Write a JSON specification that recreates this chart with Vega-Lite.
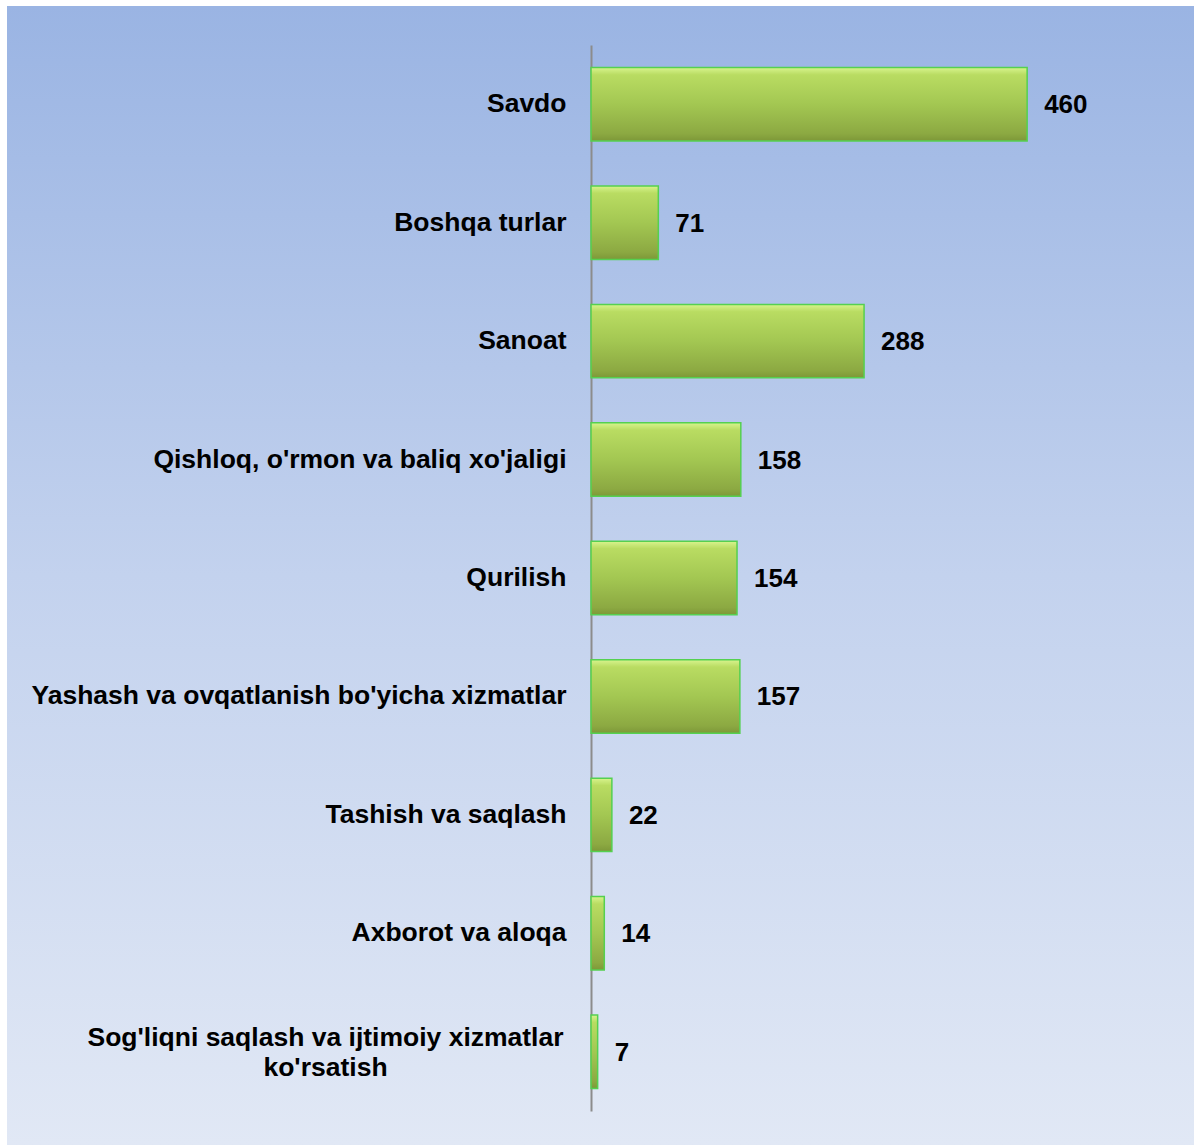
{
  "$schema": "https://vega.github.io/schema/vega-lite/v6.json",
  "width": 1187,
  "height": 1139,
  "autosize": {"type": "none"},
  "padding": {"left": 7, "top": 6, "right": 0, "bottom": 0},
  "background": "white",
  "config": {
    "view": {
      "stroke": null,
      "fill": {
        "gradient": "linear", "x1": 0, "y1": 0, "x2": 0, "y2": 1,
        "stops": [
          {"offset": 0, "color": "#9ab4e3"},
          {"offset": 0.5, "color": "#c3d2ee"},
          {"offset": 1, "color": "#e1e8f5"}
        ]
      }
    },
    "font": "Liberation Sans"
  },
  "data": {
    "values": [
      {"category": "Savdo", "value": 460},
      {"category": "Boshqa turlar", "value": 71},
      {"category": "Sanoat", "value": 288},
      {"category": "Qishloq, o'rmon va baliq xo'jaligi", "value": 158},
      {"category": "Qurilish", "value": 154},
      {"category": "Yashash va ovqatlanish bo'yicha xizmatlar", "value": 157},
      {"category": "Tashish va saqlash", "value": 22},
      {"category": "Axborot va aloqa", "value": 14},
      {"category": "Sog'liqni saqlash va ijtimoiy xizmatlar ko'rsatish", "value": 7}
    ]
  },
  "encoding": {
    "y": {
      "field": "category",
      "type": "nominal",
      "sort": null,
      "scale": {"range": [39, 1105], "paddingInner": 0.38, "paddingOuter": 0.19},
      "axis": {
        "title": null,
        "orient": "left",
        "offset": -584,
        "domainColor": "#8c8c8c",
        "domainWidth": 2,
        "ticks": false,
        "grid": false,
        "labelFont": "Liberation Sans",
        "labelFontSize": 26.5,
        "labelFontWeight": "bold",
        "labelColor": "#000000",
        "labelLimit": 0,
        "labelLineHeight": 30,
        "labelPadding": {"condition": {"test": "indexof(datum.label, 'Sog') === 0", "value": 266}, "value": 25},
        "labelAlign": {"condition": {"test": "indexof(datum.label, 'Sog') === 0", "value": "center"}, "value": "right"},
        "labelOffset": {"condition": {"test": "indexof(datum.label, 'Sog') === 0", "value": -14}, "value": 0},
        "labelExpr": "indexof(datum.label, 'Sog') === 0 ? [substring(datum.label, 0, 39), substring(datum.label, 40)] : datum.label"
      }
    },
    "x": {
      "field": "value",
      "type": "quantitative",
      "scale": {"domain": [-616, 636], "nice": false, "zero": false},
      "axis": null
    }
  },
  "layer": [
    {
      "mark": {
        "type": "bar",
        "fill": {
          "gradient": "linear", "x1": 0, "y1": 0, "x2": 0, "y2": 1,
          "stops": [
            {"offset": 0, "color": "#d8f48e"},
            {"offset": 0.1, "color": "#b9dc62"},
            {"offset": 0.5, "color": "#a3c752"},
            {"offset": 0.9, "color": "#8ca942"},
            {"offset": 1, "color": "#7d9838"}
          ]
        },
        "stroke": "#55d050",
        "strokeWidth": 1.5
      }
    },
    {
      "mark": {
        "type": "text",
        "align": "left",
        "baseline": "middle",
        "dx": 17,
        "dy": 1,
        "font": "Liberation Sans",
        "fontSize": 26,
        "fontWeight": "bold",
        "color": "#000000"
      },
      "encoding": {"text": {"field": "value", "type": "quantitative"}}
    }
  ]
}
